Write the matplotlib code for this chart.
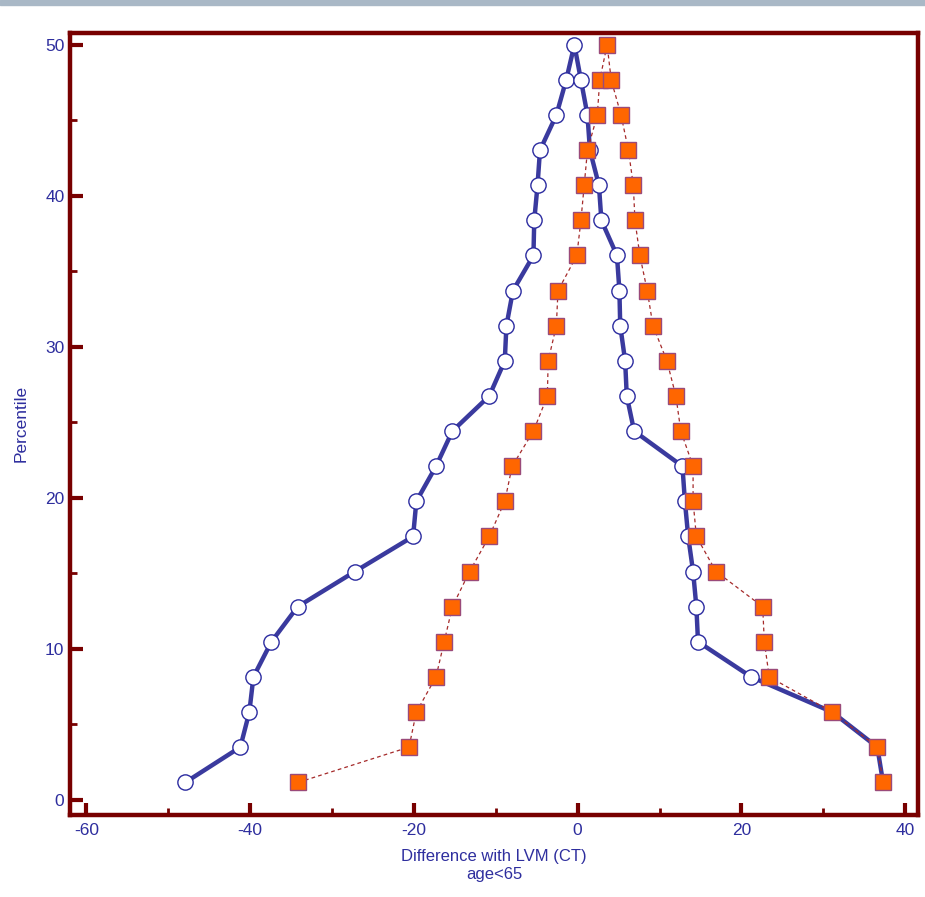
"""Mountain plot: difference with LVM (CT), age<65 — two methods folded at the median."""

import matplotlib
matplotlib.use("Agg")
import matplotlib.pyplot as plt
from matplotlib.patches import Rectangle
from matplotlib.ticker import MultipleLocator

# percentile levels, left branch going up then right branch going down
pct = [1.16, 3.49, 5.81, 8.14, 10.47, 12.79, 15.12, 17.44, 19.77, 22.09, 24.42,
       26.74, 29.07, 31.40, 33.72, 36.05, 38.37, 40.70, 43.02, 45.35, 47.67, 50.0,
       47.67, 45.35, 43.02, 40.70, 38.37, 36.05, 33.72, 31.40, 29.07, 26.74, 24.42,
       22.09, 19.77, 17.44, 15.12, 12.79, 10.47, 8.14, 5.81, 3.49, 1.16]

# method 1 (blue circles)
diff_a = [-47.9, -41.2, -40.1, -39.6, -37.4, -34.2, -27.2, -20.1, -19.7, -17.3, -15.3,
          -10.8, -8.9, -8.7, -7.9, -5.4, -5.3, -4.9, -4.6, -2.6, -1.4, -0.4,
          0.4, 1.2, 1.5, 2.6, 2.9, 4.8, 5.1, 5.2, 5.8, 6.0, 6.9,
          12.8, 13.1, 13.5, 14.1, 14.5, 14.7, 21.2, 31.1, 36.6, 37.3]

# method 2 (orange squares)
diff_b = [-34.1, -20.6, -19.7, -17.3, -16.3, -15.3, -13.2, -10.8, -8.9, -8.0, -5.4,
          -3.7, -3.6, -2.6, -2.4, -0.1, 0.4, 0.8, 1.2, 2.4, 2.7, 3.6,
          4.1, 5.3, 6.2, 6.8, 7.0, 7.6, 8.5, 9.2, 10.9, 12.0, 12.6,
          14.1, 14.1, 14.5, 16.9, 22.6, 22.8, 23.4, 31.1, 36.6, 37.3]

xticks = [-60, -40, -20, 0, 20, 40]
yticks = [0, 10, 20, 30, 40, 50]

FRAME = "#780000"
TXT = "#2E2E9E"

plt.rcParams["font.family"] = ["Liberation Sans", "DejaVu Sans"]
plt.rcParams["axes.unicode_minus"] = False

fig = plt.figure(figsize=(9.25, 8.97), dpi=100)
fig.patches.append(Rectangle((0, 0.994), 1, 0.006, transform=fig.transFigure,
                             color="#a9b8c6", zorder=0))
ax = fig.add_axes([0.0757, 0.0915, 0.917, 0.872])

ax.plot(diff_a, pct, color="#3A3A9E", lw=3.2, marker="o", ms=11,
        mfc="white", mec="#2B2BA0", mew=1.0, zorder=3)
ax.plot(diff_b, pct, color="#A52A2A", lw=0.9, ls=(0, (3, 2.5)), marker="s", ms=11.5,
        mfc="#FF6600", mec="#9A4A7A", mew=1.0, zorder=4)

ax.set_xlim(-62, 41.6)
ax.set_ylim(-1.0, 50.8)
ax.set_xticks(xticks)
ax.set_yticks(yticks)
ax.xaxis.set_minor_locator(MultipleLocator(10))
ax.yaxis.set_minor_locator(MultipleLocator(5))

for s in ax.spines.values():
    s.set_color(FRAME)
    s.set_linewidth(3.2)
ax.tick_params(which="both", direction="in", color=FRAME, labelcolor=TXT,
               top=False, right=False, labelsize=12.5)
ax.tick_params(which="major", length=9, width=3)
ax.tick_params(which="minor", length=5, width=2)
ax.tick_params(axis="x", pad=6)
ax.tick_params(axis="y", pad=4)

ax.set_xlabel("Difference with LVM (CT)\nage<65", color=TXT, fontsize=12,
              linespacing=1.2, labelpad=8)
ax.set_ylabel("Percentile", color=TXT, fontsize=12.5, labelpad=12)

fig.savefig("out.png", dpi=100)
